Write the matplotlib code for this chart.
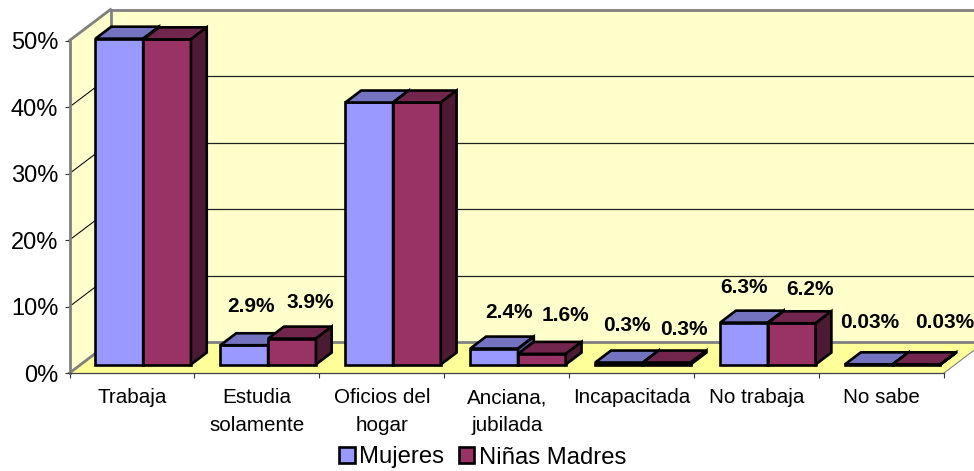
import matplotlib
matplotlib.use("Agg")
import matplotlib.pyplot as plt
from matplotlib.patches import Polygon, Patch

plt.rcParams['font.family'] = ['Liberation Sans', 'DejaVu Sans']

categories = ["Trabaja", "Estudia\nsolamente", "Oficios del\nhogar", "Anciana,\njubilada",
              "Incapacitada", "No trabaja", "No sabe"]
mujeres = [49.0, 2.9, 39.4, 2.4, 0.3, 6.3, 0.03]
ninas = [48.9, 3.9, 39.4, 1.6, 0.3, 6.2, 0.03]
mujeres_labels = [None, "2.9%", None, "2.4%", "0.3%", "6.3%", "0.03%"]
ninas_labels = [None, "3.9%", None, "1.6%", "0.3%", "6.2%", "0.03%"]
y_ticks = [0, 10, 20, 30, 40, 50]

# label offsets from the bar's top-front centre, in pixels
off_m = [None, (7, 38.5), None, (15, 36.5), (8, 37.5), (0, 35.6), (1, 42)]
off_n = [None, (18, 35.6), None, (24, 38), (17, 33.5), (18, 34), (28, 42)]

W, H = 974, 471
fig = plt.figure(figsize=(W / 100, H / 100), dpi=100, facecolor="white")
L, R, T, B = 69.5, 944, 40.5, 373
ax = fig.add_axes([L / W, (H - B) / H, (R - L) / W, (B - T) / H])
ax.set_xlim(0, 7)
ax.set_ylim(0, 50)
ax.patch.set_visible(False)

DX = 41 / ((R - L) / 7)
DY = 31 / ((B - T) / 50)


def pr(x, v, z):
    return (x + z * DX, v + z * DY)


def poly(pts, fc, ec="none", lw=0, z=1):
    ax.add_patch(Polygon([pr(*p) for p in pts], closed=True, facecolor=fc, edgecolor=ec,
                         linewidth=lw, clip_on=False, zorder=z, joinstyle="miter"))


WALL = "#FFFFCC"
FLOOR = "#FFFF99"
GRAY = "#808080"
poly([(0, 0, 1), (8, 0, 1), (8, 50, 1), (0, 50, 1)], WALL)
poly([(0, 0, 0), (0, 0, 1), (0, 50, 1), (0, 50, 0)], WALL)
poly([(0, 0, 0), (7, 0, 0), (7, 0, 1), (0, 0, 1)], FLOOR)


def line(p, q, c, lw, z=1.5, **k):
    a, b = pr(*p), pr(*q)
    ax.plot([a[0], b[0]], [a[1], b[1]], color=c, lw=lw, clip_on=False, zorder=z,
            solid_capstyle="projecting", **k)


for v in y_ticks[1:-1]:
    line((0, v, 0), (0, v, 1), "black", 0.75)
    line((0, v, 1), (8, v, 1), "#202020", 0.9)
line((0, 0, 0), (0, 0, 1), GRAY, 2.0)
line((0, 0, 1), (8, 0, 1), GRAY, 2.0)
line((0, 50, 0), (0, 50, 1), GRAY, 2.0)
line((0, 50, 1), (8, 50, 1), GRAY, 2.0)
line((0, 0, 1), (0, 50, 1), GRAY, 2.0)
line((7, 0, 0), (7, 0, 1), GRAY, 0.8)

Z0, Z1 = 0.274, 0.66
BW = 0.382
GAP = 0.118
EDGE = 1.9


def bar(x, v, front, top, side, zo):
    poly([(x, 0, Z0), (x + BW, 0, Z0), (x + BW, v, Z0), (x, v, Z0)], front, "black", EDGE, zo)
    poly([(x, v, Z0), (x + BW, v, Z0), (x + BW, v, Z1), (x, v, Z1)], top, "black", EDGE, zo)
    poly([(x + BW, 0, Z0), (x + BW, 0, Z1), (x + BW, v, Z1), (x + BW, v, Z0)], side, "black", EDGE, zo)


for i in range(len(categories)):
    xm = i + GAP
    xn = xm + BW
    bar(xm, mujeres[i], "#9999FF", "#7373BF", "#4D4D80", 3 + i * 0.1)
    bar(xn, ninas[i], "#993366", "#73264D", "#4D1A33", 3.05 + i * 0.1)
    for x, v, lab, off in ((xm, mujeres[i], mujeres_labels[i], off_m[i]),
                           (xn, ninas[i], ninas_labels[i], off_n[i])):
        if lab:
            ax.annotate(lab, xy=pr(x + BW / 2, v, Z0),
                        xytext=(off[0] * 0.72, off[1] * 0.72), textcoords="offset points",
                        ha="center", va="center", fontsize=15, fontweight="bold",
                        color="black", annotation_clip=False, zorder=6)

ax.set_yticks(y_ticks)
ax.set_yticklabels([f"{v}%" for v in y_ticks], fontsize=17)
ax.set_xticks(range(8))
ax.set_xticklabels([])
ax.set_xticks([i + 0.5 for i in range(7)], minor=True)
ax.set_xticklabels(categories, minor=True, fontsize=14.9, linespacing=1.6)
ax.tick_params(axis="x", which="major", length=3.6, width=0.8, color="#333333")
ax.tick_params(axis="x", which="minor", length=0, pad=11)
ax.tick_params(axis="y", length=3.6, width=0.8, color="#333333", pad=4.5)

for s in ("top", "right"):
    ax.spines[s].set_visible(False)
ax.spines["left"].set_color(GRAY)
ax.spines["left"].set_linewidth(2.0)
ax.spines["bottom"].set_color("#404040")
ax.spines["bottom"].set_linewidth(0.9)

handles = [Patch(facecolor="#9999FF", edgecolor="black", linewidth=1.9, label="Mujeres"),
           Patch(facecolor="#993366", edgecolor="black", linewidth=1.9, label="Niñas Madres")]
fig.legend(handles=handles, ncol=2, loc="center", bbox_to_anchor=(482.5 / W, (H - 457.5) / H),
           frameon=False, fontsize=17.2, handlelength=0.66, handleheight=0.66,
           handletextpad=0.17, columnspacing=0.62, borderpad=0, labelspacing=0)

fig.savefig("out.png", dpi=100)
